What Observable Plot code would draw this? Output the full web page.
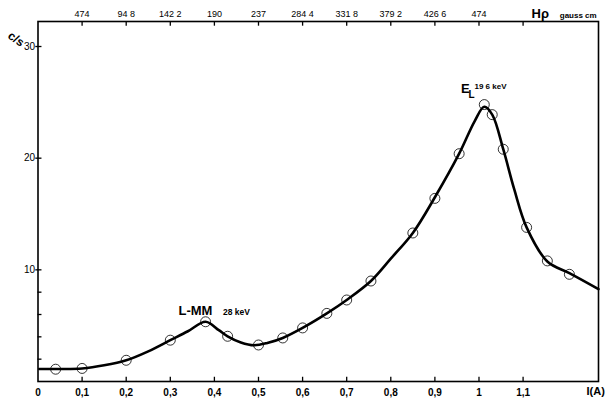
<!DOCTYPE html>
<html>
<head>
<meta charset="utf-8">
<script src="https://cdn.jsdelivr.net/npm/d3@7"></script>
<script src="https://cdn.jsdelivr.net/npm/@observablehq/plot@0.6"></script>
<style>
  html, body { margin: 0; padding: 0; background: white; }
</style>
</head>
<body>
<div id="chart"></div>
<script>
// Measured points (circles)
const pointX = [0.04, 0.10, 0.20, 0.30, 0.38, 0.43, 0.50, 0.555, 0.60, 0.655, 0.70, 0.755, 0.85, 0.90, 0.955, 1.012, 1.03, 1.055, 1.108, 1.155, 1.205];
const pointY = [1.1, 1.17, 1.9, 3.7, 5.35, 4.05, 3.27, 3.9, 4.8, 6.1, 7.3, 9.0, 13.3, 16.4, 20.4, 24.8, 23.9, 20.8, 13.8, 10.8, 9.6];

// Drawn smooth curve
const curveX = [0.003, 0.05, 0.10, 0.15, 0.20, 0.25, 0.30, 0.34, 0.38, 0.41, 0.43, 0.46, 0.49, 0.52, 0.555, 0.60, 0.655, 0.70, 0.755, 0.80, 0.85, 0.90, 0.955, 0.99, 1.012, 1.03, 1.055, 1.08, 1.108, 1.155, 1.205, 1.271];
const curveY = [1.12, 1.12, 1.17, 1.45, 1.9, 2.7, 3.7, 4.5, 5.35, 4.6, 4.05, 3.5, 3.25, 3.45, 3.9, 4.8, 6.1, 7.3, 9.0, 11.0, 13.3, 16.5, 20.4, 23.3, 24.6, 23.9, 20.8, 17.2, 13.8, 10.75, 9.7, 8.27];

// Bottom axis (I in A)
const bottomTicks = [0, 0.1, 0.2, 0.3, 0.4, 0.5, 0.6, 0.7, 0.8, 0.9, 1.0, 1.1];
const bottomLabels = ["0", "0,1", "0,2", "0,3", "0,4", "0,5", "0,6", "0,7", "0,8", "0,9", "1", "1,1"];

// Top axis (Hρ gauss cm)
const topTicks = [0.1, 0.2, 0.3, 0.4, 0.5, 0.6, 0.7, 0.8, 0.9, 1.0, 1.1];
const topLabels = ["474", "94 8", "142 2", "190", "237", "284 4", "331 8", "379 2", "426 6", "474", ""];

// Left axis (c/s)
const yMajor = [10, 20, 30];
const yMinor = [2, 4, 6, 8];

const xMax = 1.271, yMax = 32.24;

const points = pointX.map((x, i) => ({x, y: pointY[i]}));
const curve = curveX.map((x, i) => ({x, y: curveY[i]}));

const font = "'Liberation Sans', Arial, Helvetica, sans-serif";

const chart = Plot.plot({
  width: 607,
  height: 401,
  marginLeft: 37.5,
  marginRight: 9,
  marginTop: 21,
  marginBottom: 20,
  x: {domain: [0, xMax], axis: null},
  y: {domain: [0, yMax], axis: null},
  style: {fontFamily: font, background: "white", color: "black"},
  marks: [
    Plot.frame({stroke: "black", strokeWidth: 1.6}),
    // bottom ticks (inward)
    Plot.ruleX(bottomTicks.slice(1), {y1: 0, y2: 0.38, stroke: "black", strokeWidth: 1.3}),
    Plot.text(bottomTicks, {x: d => d, y: 0, text: (d, i) => bottomLabels[i], dy: 11, fontSize: 10, fontWeight: "bold"}),
    // top ticks (inward)
    Plot.ruleX(topTicks, {y1: yMax - 0.42, y2: yMax, stroke: "black", strokeWidth: 1.3}),
    Plot.text(topTicks, {x: d => d, y: yMax, text: (d, i) => topLabels[i], dy: -7, fontSize: 9}),
    // left ticks
    Plot.ruleY(yMajor, {x1: -0.005, x2: 0.009, stroke: "black", strokeWidth: 1.3}),
    Plot.ruleY(yMinor, {x1: 0, x2: 0.009, stroke: "black", strokeWidth: 1.3}),
    Plot.text(yMajor, {x: 0, y: d => d, text: d => String(d), dx: -3, textAnchor: "end", fontSize: 10}),
    // curve and points
    Plot.line(curve, {x: "x", y: "y", curve: "catmull-rom", stroke: "black", strokeWidth: 2.6}),
    Plot.dot(points, {x: "x", y: "y", r: 5, stroke: "black", strokeWidth: 0.8, fill: "none"}),
    // annotations
    Plot.text(["L-MM"], {x: 0.357, y: 6.32, fontSize: 13, fontWeight: "bold"}),
    Plot.text(["28 keV"], {x: 0.45, y: 6.2, fontSize: 8.5, fontWeight: "bold"}),
    Plot.text(["E"], {x: 0.969, y: 26.23, fontSize: 13, fontWeight: "bold"}),
    Plot.text(["L"], {x: 0.983, y: 25.7, fontSize: 10, fontWeight: "bold"}),
    Plot.text(["19 6 keV"], {x: 1.026, y: 26.45, fontSize: 8, fontWeight: "bold"}),
    Plot.text(["Hρ"], {x: 1.139, y: yMax, dy: -8, fontSize: 13, fontWeight: "bold"}),
    Plot.text(["gauss cm"], {x: 1.225, y: yMax, dy: -6, fontSize: 8, fontWeight: "bold"}),
    Plot.text(["c/s"], {frameAnchor: "top-left", dx: -26, dy: 9, rotate: 35, fontSize: 12, fontWeight: "bold"}),
    Plot.text(["I(A)"], {x: xMax, y: 0, dx: -12, dy: 10, textAnchor: "start", fontSize: 11, fontWeight: "bold"})
  ]
});

document.getElementById("chart").appendChild(chart);
</script>
</body>
</html>
